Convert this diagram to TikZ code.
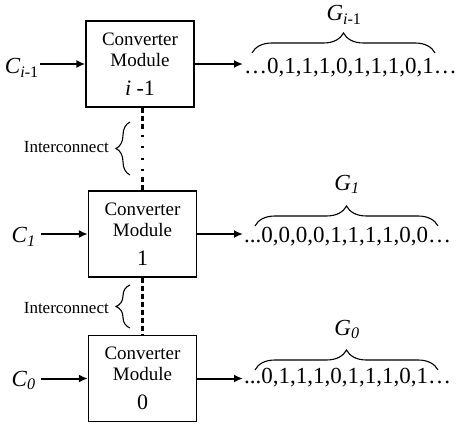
\documentclass[tikz,border=0pt]{standalone}
\usepackage{fontspec}
\setmainfont{Liberation Serif}
\usetikzlibrary{arrows.meta,decorations.pathreplacing}

\begin{document}
\begin{tikzpicture}[x=1pt,y=-1pt,
    module/.style={draw, line width=1.3pt, minimum width=108pt, minimum height=86pt,
        inner sep=0pt, align=center, font=\fontsize{19}{21}\selectfont},
    flow/.style={-{Latex[length=9pt,width=8pt]}, line width=2pt},
    sig/.style={font=\fontsize{23}{23}\selectfont, inner sep=1pt},
    bits/.style={font=\fontsize{23}{23}\selectfont, inner sep=1pt, anchor=base west},
    note/.style={font=\fontsize{17}{17}\selectfont, inner sep=1pt, anchor=base east},
    grp/.style={decorate, decoration={brace, amplitude=20pt}, line width=1.1pt},
    link/.style={decorate, decoration={brace, amplitude=14pt}, line width=1.1pt},
    wire/.style={line width=2.4pt, dash pattern=on 5pt off 3pt},
    gapwire/.style={line width=2.4pt, dash pattern=on 2pt off 9.5pt}]
    \useasboundingbox (0,0) rectangle (456,428);

    % modules
    \node[module] (m2) at (140,64) {Converter\\Module\\[8pt]{\fontsize{22}{22}\selectfont\textit{i} -1}};
    \node[module] (m1) at (142.5,234) {Converter\\Module\\[8pt]{\fontsize{22}{22}\selectfont 1}};
    \node[module] (m0) at (142.5,378.5) {Converter\\Module\\[8pt]{\fontsize{22}{22}\selectfont 0}};

    % inputs
    \node[sig, anchor=base east] (c2) at (40,74) {\textit{C}\textsubscript{\textit{i}-1}};
    \node[sig, anchor=base east, inner xsep=5pt] (c1) at (41,243) {\textit{C}\textsubscript{\textit{1}}};
    \node[sig, anchor=base east, inner xsep=5pt] (c0) at (41,386) {\textit{C}\textsubscript{\textit{0}}};
    \draw[flow] (c2.east |- m2.west) -- (m2.west);
    \draw[flow] (c1.east |- m1.west) -- (m1.west);
    \draw[flow] (c0.east |- m0.west) -- (m0.west);

    % outputs
    \node[bits] (b2) at (243,74) {…0,1,1,1,0,1,1,1,0,1…};
    \node[bits] (b1) at (243,242) {...0,0,0,0,1,1,1,1,0,0…};
    \node[bits] (b0) at (243,383) {...0,1,1,1,0,1,1,1,0,1…};
    \draw[flow] (m2.east) -- (m2.east -| b2.west);
    \draw[flow] (m1.east) -- (m1.east -| b1.west);
    \draw[flow] (m0.east) -- (m0.east -| b0.west);

    \draw[grp] (252,53) -- (435,53);
    \draw[grp] (255,226) -- (438,226);
    \draw[grp] (255,370) -- (438,370);
    \node[sig, anchor=base] (g2) at (344,21) {\textit{G}\textsubscript{\textit{i}-1}};
    \node[sig, anchor=base] (g1) at (347,190) {\textit{G}\textsubscript{\textit{1}}};
    \node[sig, anchor=base] (g0) at (347,335) {\textit{G}\textsubscript{\textit{0}}};

    % interconnect
    \coordinate (w2) at (m1.north |- m2.south);
    \draw[wire] (w2) -- ++(0,22);
    \draw[gapwire] (w2) ++(0,27) -- ++(0,40);
    \draw[wire] (m1.north) -- ++(0,-13);
    \draw[wire] (m1.south) -- (m0.north);

    \draw[link] (130,175) -- (130,122);
    \draw[link] (130,328) -- (130,285);
    \node[note] (n2) at (110,153) {Interconnect};
    \node[note] (n1) at (110,313) {Interconnect};
\end{tikzpicture}
\end{document}
